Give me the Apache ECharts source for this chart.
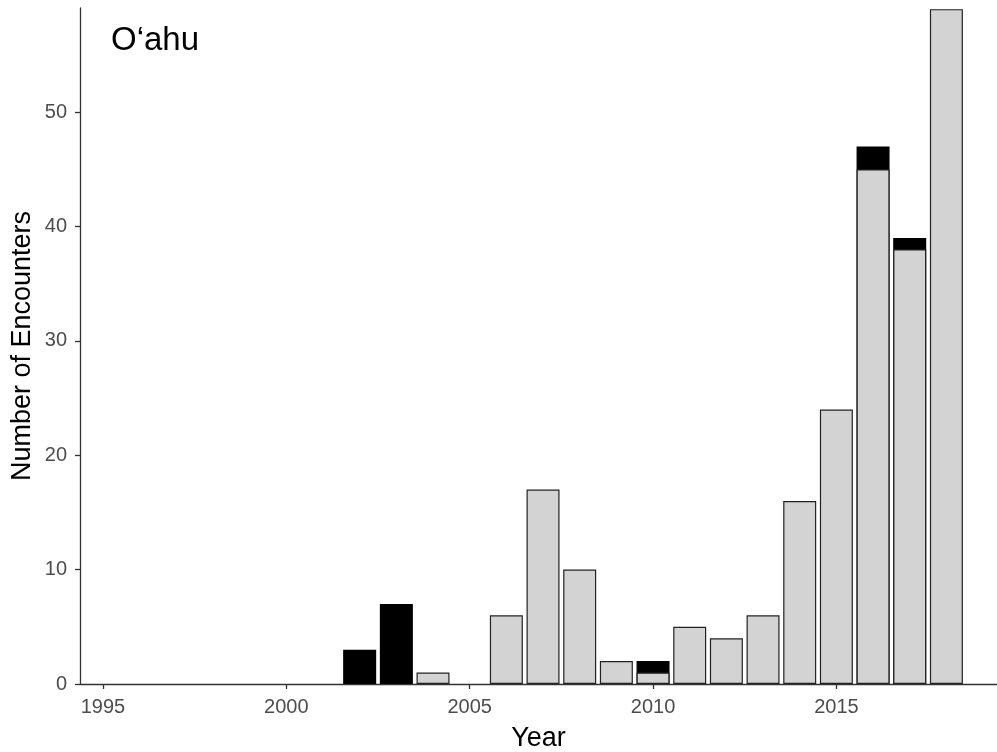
<!DOCTYPE html>
<html>
<head>
<meta charset="utf-8">
<script src="https://cdn.jsdelivr.net/npm/echarts@6/dist/echarts.min.js"></script>
<style>html,body{margin:0;padding:0;background:#fff}#c{width:997px;height:752px}</style>
</head>
<body>
<div id="c"></div>
<script>
// Data
var years      = [2002, 2003, 2004, 2006, 2007, 2008, 2009, 2010, 2011, 2012, 2013, 2014, 2015, 2016, 2017, 2018];
var greyValues = [0,    0,    1,    6,    17,   10,   2,    1,    5,    4,    6,    16,   24,   45,   38,   59];
var blackValues= [3,    7,    0,    0,    0,    0,    0,    1,    0,    0,    0,    0,    0,    2,    1,    0];
var xTicks = [1995, 2000, 2005, 2010, 2015];
var yTicks = [0, 10, 20, 30, 40, 50];
var panelLabel = 'O\u2018ahu';

// Stacked tops: black segment sits on top of the grey segment
var blackTop = years.map(function(y,i){ return blackValues[i] > 0 ? [y, greyValues[i] + blackValues[i]] : [y, '-']; });
var greyData = years.map(function(y,i){ return greyValues[i] > 0 ? [y, greyValues[i]] : [y, '-']; });

var FONT = '"Liberation Sans", Arial, sans-serif';
var chart = echarts.init(document.getElementById('c'), null, {renderer:'canvas'});
chart.setOption({
  animation: false,
  backgroundColor: '#fff',
  grid: { left: 80, right: 0, top: 8, bottom: 68, containLabel: false, outerBoundsMode: 'none' },
  xAxis: {
    type: 'value', min: 1994.373, max: 2019.38,
    name: 'Year', nameLocation: 'middle', nameGap: 41, nameMoveOverlap: false,
    nameTextStyle: { fontFamily: FONT, fontSize: 27, color: '#000' },
    axisLine: { show: true, onZero: false, lineStyle: { color: '#333', width: 1.3 } },
    axisTick: { show: true, length: 5, customValues: xTicks, lineStyle: { color: '#333', width: 1.3 } },
    axisLabel: { customValues: xTicks, margin: 13, fontFamily: FONT, fontSize: 20, color: '#4d4d4d',
                 formatter: function(v){ return String(v); } },
    splitLine: { show: false }
  },
  yAxis: {
    type: 'value', min: 0, max: 59.1,
    name: 'Number of Encounters', nameLocation: 'middle', nameGap: 44, nameRotate: 90, nameMoveOverlap: false,
    nameTextStyle: { fontFamily: FONT, fontSize: 27, color: '#000' },
    axisLine: { show: true, lineStyle: { color: '#333', width: 1.3 } },
    axisTick: { show: true, length: 5, customValues: yTicks, lineStyle: { color: '#333', width: 1.3 } },
    axisLabel: { customValues: yTicks, margin: 13, fontFamily: FONT, fontSize: 20, color: '#4d4d4d',
                 formatter: function(v){ return String(v); } },
    splitLine: { show: false }
  },
  graphic: [{
    type: 'text', x: 111, y: 41,
    style: { text: panelLabel, font: '33px ' + FONT, fill: '#000', textVerticalAlign: 'middle' }
  }],
  series: [
    { type: 'bar', name: 'black', data: blackTop, barWidth: 33,
      itemStyle: { color: '#000', borderColor: '#000', borderWidth: 1.2 } },
    { type: 'bar', name: 'grey', data: greyData, barWidth: 33, barGap: '-100%',
      itemStyle: { color: '#d3d3d3', borderColor: '#222', borderWidth: 1.2 } }
  ]
});
</script>
</body>
</html>
